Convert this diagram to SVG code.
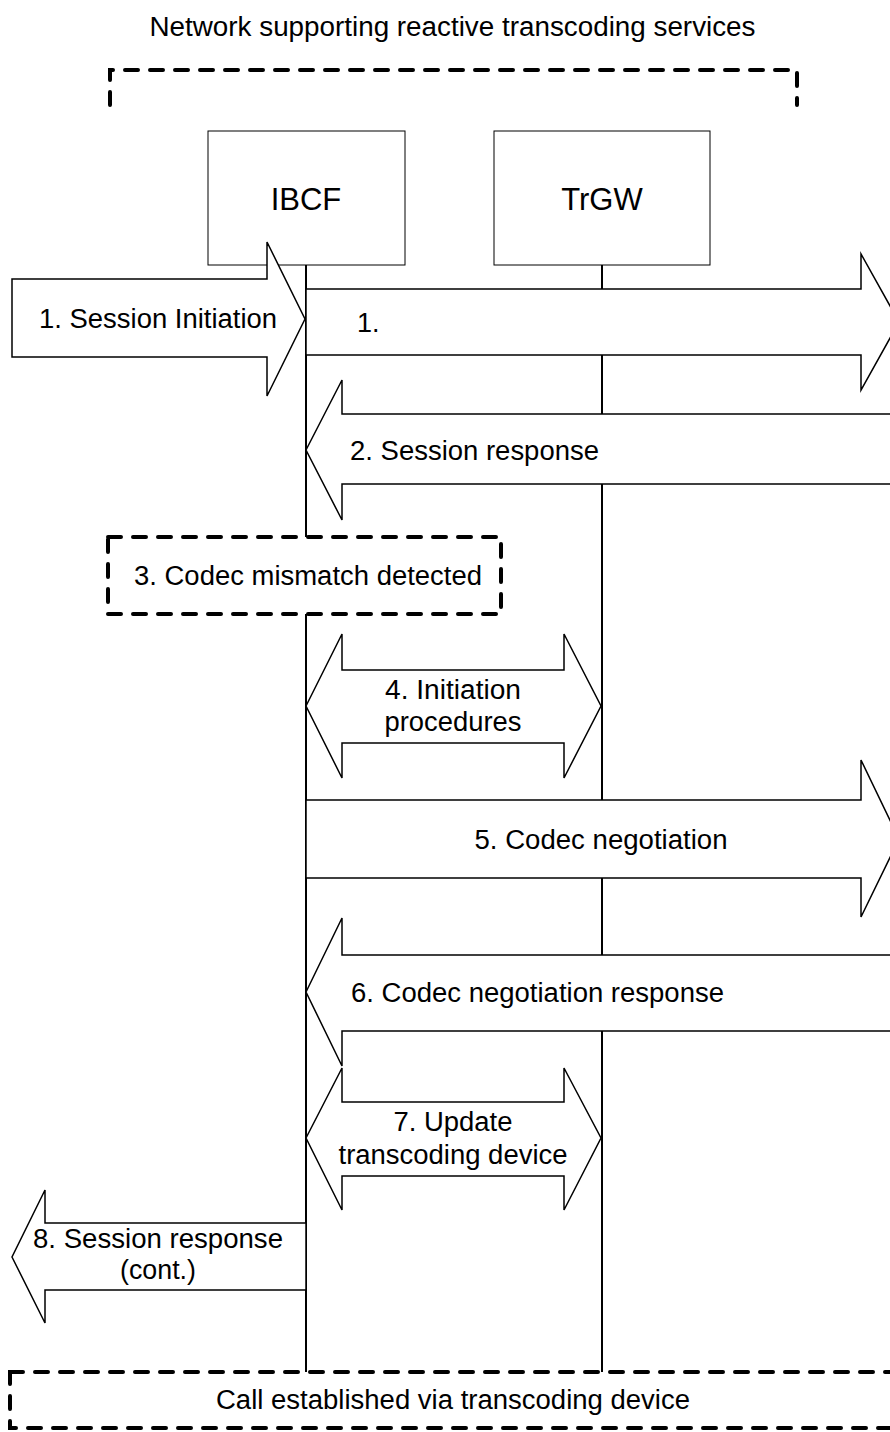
<svg xmlns="http://www.w3.org/2000/svg" width="890" height="1432" viewBox="0 0 890 1432">
<style>
.t{font-family:"Liberation Sans",Arial,sans-serif;font-size:27px;fill:#000}
.m{text-anchor:middle}
.dash{fill:none;stroke:#000;stroke-width:4;stroke-dasharray:13 12;stroke-linecap:round}
.dashf{fill:#fff;stroke:#000;stroke-width:4;stroke-dasharray:13 12;stroke-linecap:round}
.box{fill:#fff;stroke:#000;stroke-width:1}
.life{stroke:#000;stroke-width:2}
.arr{fill:#fff;stroke:#000;stroke-width:1.5;stroke-linejoin:miter}
</style>
<rect width="890" height="1432" fill="#fff"/>
<g id="title">
<text class="t m" x="452.5" y="36" textLength="606" lengthAdjust="spacingAndGlyphs">Network supporting reactive transcoding services</text>
</g>
<g id="network-bracket">
<path class="dash" d="M110,105 V70 H797 V105"/>
</g>
<g id="IBCF">
<rect class="box" x="208" y="131" width="197" height="134"/>
<text class="t m" x="306" y="210" style="font-size:31px">IBCF</text>
</g>
<g id="TrGW">
<rect class="box" x="494" y="131" width="216" height="134"/>
<text class="t m" x="602" y="210" style="font-size:31px">TrGW</text>
</g>
<g id="lifelines">
<line class="life" x1="306" y1="265" x2="306" y2="1372"/>
<line class="life" x1="602" y1="265" x2="602" y2="1372"/>
</g>
<g id="connectors">
<g id="msg1-in">
<polygon class="arr" points="12,279 267,279 267,242 305,319 267,396 267,357 12,357"/>
<text class="t m" x="158" y="328" textLength="238" lengthAdjust="spacingAndGlyphs">1. Session Initiation</text>
</g>
<g id="msg1-out">
<polygon class="arr" points="306,289 861,289 861,254 899,322 861,390 861,355 306,355"/>
<text class="t" x="357" y="332">1.</text>
</g>
<g id="msg2">
<polygon class="arr" points="306,450 342,380 342,414 900,414 900,484 342,484 342,520"/>
<text class="t" x="350" y="460" textLength="249" lengthAdjust="spacingAndGlyphs">2. Session response</text>
</g>
<g id="msg4">
<polygon class="arr" points="306,706 342,634 342,670 564,670 564,634 601,706 564,778 564,743 342,743 342,778"/>
<text class="t m" x="453" y="699" textLength="136" lengthAdjust="spacingAndGlyphs">4. Initiation</text>
<text class="t m" x="453" y="731" textLength="137" lengthAdjust="spacingAndGlyphs">procedures</text>
</g>
<g id="msg5">
<polygon class="arr" points="306,800 861,800 861,760 899,839 861,917 861,878 306,878"/>
<text class="t m" x="601" y="849" textLength="253" lengthAdjust="spacingAndGlyphs">5. Codec negotiation</text>
</g>
<g id="msg6">
<polygon class="arr" points="306,992 342,918 342,955 900,955 900,1031 342,1031 342,1066"/>
<text class="t" x="351" y="1002" textLength="373" lengthAdjust="spacingAndGlyphs">6. Codec negotiation response</text>
</g>
<g id="msg7">
<polygon class="arr" points="306,1138 342,1068 342,1102 564,1102 564,1068 601,1138 564,1210 564,1176 342,1176 342,1210"/>
<text class="t m" x="453" y="1131" textLength="119" lengthAdjust="spacingAndGlyphs">7. Update</text>
<text class="t m" x="453" y="1164" textLength="229" lengthAdjust="spacingAndGlyphs">transcoding device</text>
</g>
<g id="msg8">
<polygon class="arr" points="306,1223 45,1223 45,1190 12,1257 45,1323 45,1290 306,1290"/>
<text class="t m" x="158" y="1248" textLength="250" lengthAdjust="spacingAndGlyphs">8. Session response</text>
<text class="t m" x="158" y="1279" textLength="76" lengthAdjust="spacingAndGlyphs">(cont.)</text>
</g>
</g>
<g id="step3">
<rect class="dashf" x="108" y="537" width="393" height="77"/>
<text class="t m" x="308" y="585" textLength="348" lengthAdjust="spacingAndGlyphs">3. Codec mismatch detected</text>
</g>
<g id="call-established">
<rect class="dashf" x="10" y="1372" width="900" height="56"/>
<text class="t m" x="453" y="1409" textLength="474" lengthAdjust="spacingAndGlyphs">Call established via transcoding device</text>
</g>
</svg>
